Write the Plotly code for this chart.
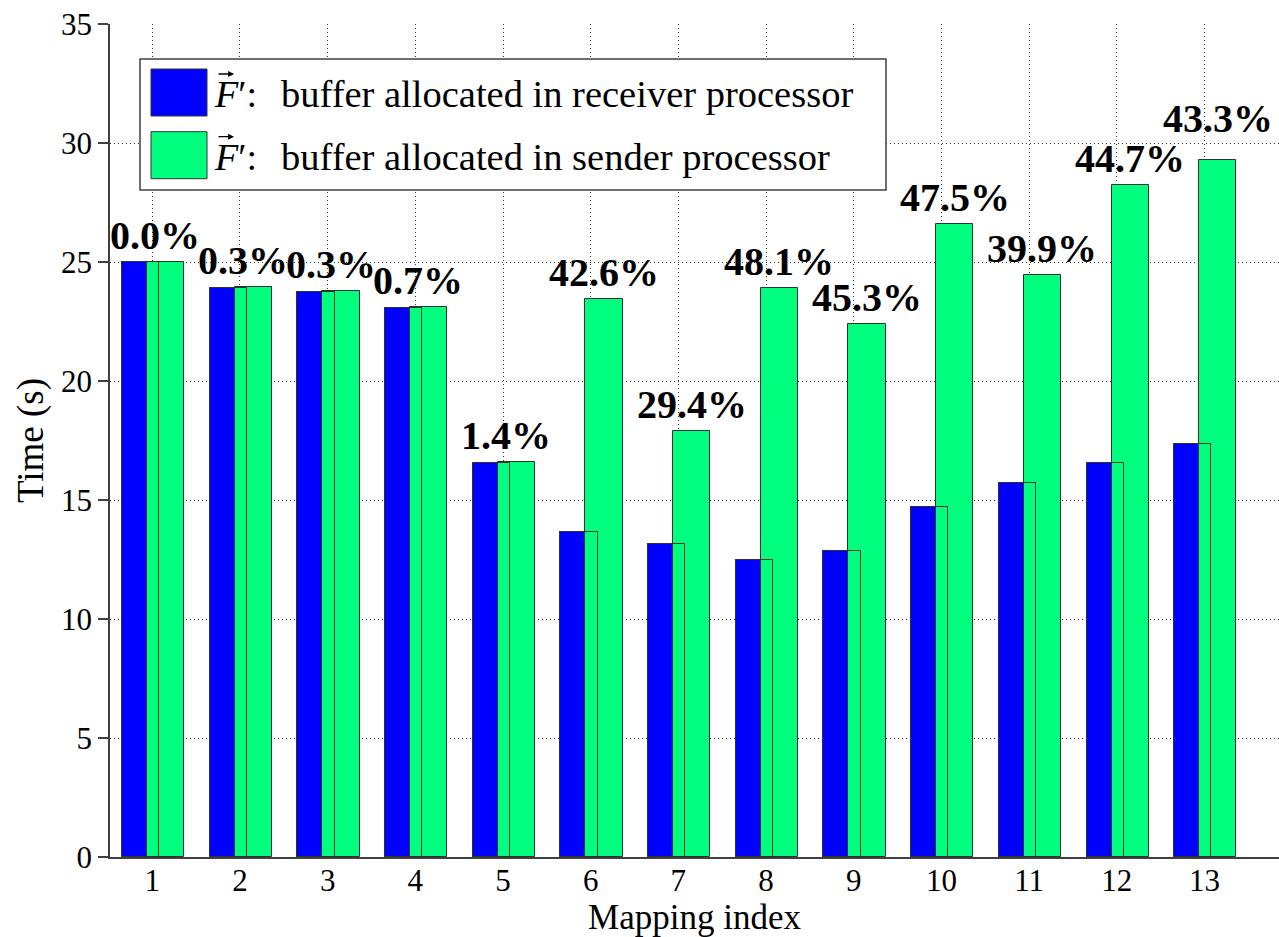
import plotly.graph_objects as go

# ---- data ----
mapping_index = list(range(1, 14))
receiver_time = [25.0, 23.9, 23.75, 23.05, 16.55, 13.65, 13.15, 12.5, 12.85, 14.7, 15.7, 16.55, 17.35]
sender_time = [25.0, 23.97, 23.8, 23.12, 16.6, 23.45, 17.88, 23.9, 22.4, 26.58, 24.47, 28.22, 29.27]
pct_labels = ["0.0%", "0.3%", "0.3%", "0.7%", "1.4%", "42.6%", "29.4%", "48.1%",
              "45.3%", "47.5%", "39.9%", "44.7%", "43.3%"]
label_lift_px = [2, 2, 2, 2, 2, 2, 2, 2, 2, 2, 2, 2, 17]
legend_names = ["buffer allocated in receiver processor", "buffer allocated in sender processor"]

BLUE = "#0000ff"
GREEN = "#00ff7f"
EDGE = "#303030"
FONT = "Liberation Serif"

W, H = 1279, 937
ML, MR, MT, MB = 110, 0, 24, 80
PW, PH = W - ML - MR, H - MT - MB
X_RANGE = [0.518, 13.85]
UNIT_PX = PW / (X_RANGE[1] - X_RANGE[0])

fig = go.Figure()
bar_w = 0.425
fig.add_trace(go.Bar(x=mapping_index, y=receiver_time, width=bar_w, offset=-0.345,
                     marker=dict(color=BLUE, line=dict(color=EDGE, width=1)),
                     name=legend_names[0], showlegend=False))
fig.add_trace(go.Bar(x=mapping_index, y=sender_time, width=bar_w, offset=-0.06,
                     marker=dict(color=GREEN, line=dict(color=EDGE, width=1)),
                     name=legend_names[1], showlegend=False))
# outline of receiver bars drawn over the overlapping sender bars
fig.add_trace(go.Bar(x=mapping_index, y=receiver_time, width=bar_w, offset=-0.345,
                     marker=dict(color="rgba(0,0,0,0)", line=dict(color=EDGE, width=1)),
                     hoverinfo="skip", showlegend=False))

for xi, yi, t, lift in zip(mapping_index, sender_time, pct_labels, label_lift_px):
    fig.add_annotation(x=xi, y=yi, text="<b>" + t + "</b>", showarrow=False,
                       xanchor="left", yanchor="bottom", yshift=lift,
                       xshift=-0.5 * UNIT_PX,
                       font=dict(family=FONT, size=40, color="black"))

def px_x(p):
    return (p - ML) / PW

def px_y(p):
    return (H - MB - p) / PH

# custom legend (large swatches like the original)
fig.add_shape(type="rect", xref="paper", yref="paper", x0=px_x(140), x1=px_x(886),
              y0=px_y(190), y1=px_y(59), fillcolor="white",
              line=dict(color="#404040", width=1.5), layer="above")
swatch_colors = [BLUE, GREEN]
swatch_tops = [69, 131.7]
for name, col, top in zip(legend_names, swatch_colors, swatch_tops):
    fig.add_shape(type="rect", xref="paper", yref="paper", x0=px_x(151), x1=px_x(207),
                  y0=px_y(top + 47), y1=px_y(top), fillcolor=col,
                  line=dict(color=EDGE, width=1), layer="above")
    fig.add_annotation(xref="paper", yref="paper", x=px_x(212), y=px_y(top + 25),
                       xanchor="left", yanchor="middle", showarrow=False,
                       text="<i>F</i>\u2032:",
                       font=dict(family=FONT, size=38, color="black"))
    fig.add_annotation(xref="paper", yref="paper", x=px_x(279), y=px_y(top + 25),
                       xanchor="left", yanchor="middle", showarrow=False,
                       text=name,
                       font=dict(family=FONT, size=38.5, color="black"))
    # vector arrow over F
    fig.add_annotation(xref="paper", yref="paper", x=px_x(234), y=px_y(top + 5),
                       text="", showarrow=True, axref="pixel", ayref="pixel",
                       ax=-17, ay=0, arrowhead=2, arrowsize=0.9, arrowwidth=1.3,
                       arrowcolor="black", standoff=0, startstandoff=0)

grid = dict(showgrid=True, gridcolor="#333333", gridwidth=1, griddash="1px,3px")
fig.update_xaxes(range=X_RANGE, tickmode="array", tickvals=mapping_index,
                 ticks="", ticklen=0, ticklabelstandoff=-5, showline=True, linecolor="#404040",
                 linewidth=1.5, zeroline=False,
                 tickfont=dict(family=FONT, size=31, color="black"),
                 title=dict(text="Mapping index", font=dict(family=FONT, size=35, color="black"),
                            standoff=4),
                 **grid)
fig.update_yaxes(range=[0, 35], tickmode="linear", tick0=0, dtick=5,
                 ticks="outside", ticklen=10, tickcolor="#404040", tickwidth=1.5,
                 showline=True, linecolor="#404040", linewidth=1.5, zeroline=False,
                 tickfont=dict(family=FONT, size=31, color="black"),
                 title=dict(text="Time (s)", font=dict(family=FONT, size=37, color="black"),
                            standoff=6),
                 **grid)

fig.update_layout(width=W, height=H, margin=dict(l=ML, r=MR, t=MT, b=MB),
                  barmode="overlay", bargap=0, plot_bgcolor="white", paper_bgcolor="white",
                  font=dict(family=FONT, color="black"), showlegend=False)

fig.write_html("out.html")
